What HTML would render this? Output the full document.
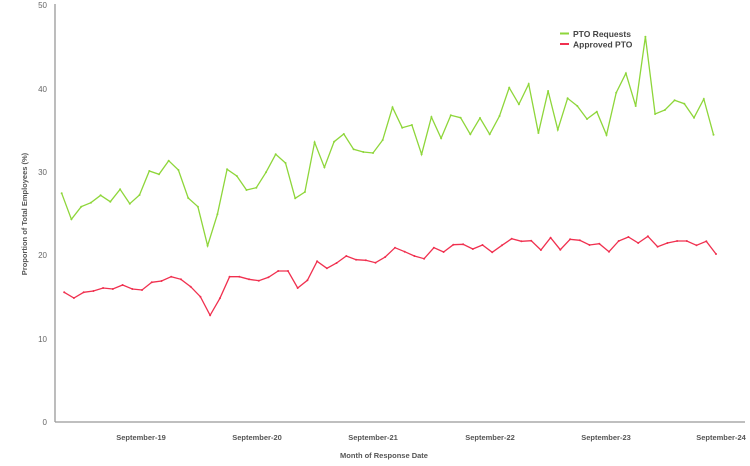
<!DOCTYPE html>
<html><head><meta charset="utf-8"><style>
html,body{margin:0;padding:0;background:#fff;}
svg{display:block;font-family:"Liberation Sans",sans-serif;}
</style></head><body>
<svg id="c" width="750" height="466" xmlns="http://www.w3.org/2000/svg">
<line x1="55" y1="4" x2="55" y2="422" stroke="#999" stroke-width="1.3"/>
<line x1="55" y1="422" x2="745" y2="422" stroke="#999" stroke-width="1.3"/>
<g font-size="8" fill="#666" text-anchor="end">
<text x="47" y="425">0</text><text x="47" y="342">10</text><text x="47" y="258">20</text>
<text x="47" y="175">30</text><text x="47" y="92">40</text><text x="47" y="8">50</text>
</g>
<g font-size="7.5" fill="#555" font-weight="bold" text-anchor="middle">
<text x="141" y="440">September-19</text><text x="257" y="440">September-20</text>
<text x="373" y="440">September-21</text><text x="490" y="440">September-22</text>
<text x="606" y="440">September-23</text><text x="721" y="440">September-24</text>
<text x="384" y="458">Month of Response Date</text>
<text transform="translate(27,214) rotate(-90)">Proportion of Total Employees (%)</text>
</g>
<line x1="560" y1="33.5" x2="569" y2="33.5" stroke="#8ed63a" stroke-width="2"/>
<line x1="560" y1="44" x2="569" y2="44" stroke="#f0304f" stroke-width="2"/>
<g font-size="8.5" fill="#444" font-weight="bold">
<text x="573" y="37">PTO Requests</text><text x="573" y="47.5">Approved PTO</text>
</g>
<g id="s"></g>
</svg>
<script>
var g=[193.3,219.3,206.7,202.7,195.3,201.7,189.3,203.7,195,171,174.3,160.7,170,198,206.7,245.7,214.3,169.3,176,190,187.7,172.3,154.3,163,198.3,192,142.3,167.3,141.7,134,149.3,152,153,140,107.3,127.7,125,154.3,117,138.3,115.3,117.7,134.3,118,134.3,116,87.7,104.3,84,133,91,129.7,98.3,106,119,111.7,135,92.7,73.3,106,36.7,114,110,100.3,103.7,117.7,99,134.7];
var r=[292.3,298,292.3,291,288,289,285,289,290,282.3,281,276.7,279.3,286.7,296.7,315.3,298.3,276.7,276.7,279.3,280.7,277.3,271,271,288,280.3,261.3,268.3,263,256,259.7,260.3,262.7,257,247.7,251.7,256,258.7,247.7,252,244.7,244.3,249,245,252.3,245.3,238.7,241.3,240.7,250,237.7,249.7,239.3,240.3,245,243.7,251.7,241,237,243,236.3,246.7,243,241,241,245.3,241.3,254];
function mk(d,x0,col){var s=(713.5-61.7)/67,p=[],c='';for(var i=0;i<d.length;i++){var x=(x0+i*s).toFixed(1);p.push(x+','+d[i]);c+='<circle cx="'+x+'" cy="'+d[i]+'" r="1" fill="'+col+'"/>';}
return '<polyline points="'+p.join(' ')+'" fill="none" stroke="'+col+'" stroke-width="1.3"/>'+c;}
document.getElementById('s').innerHTML=mk(g,61.7,'#8ed63a')+mk(r,64.2,'#f0304f');
</script>
</body></html>
